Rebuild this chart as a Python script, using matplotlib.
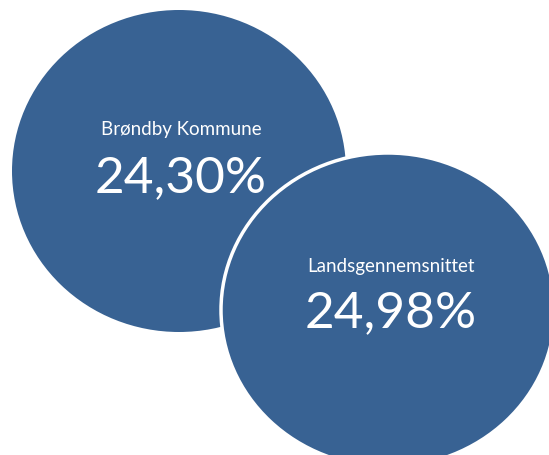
import matplotlib.pyplot as plt
from matplotlib.patches import Ellipse

# Data
labels = ['Brøndby Kommune', 'Landsgennemsnittet']
values = [24.30, 24.98]

# Bubble layout (pixel coords)
centers = [(179, 172), (388, 311)]
sizes = [(334, 322), (334, 314)]
text_x = [181, 391]
label_y = [130, 267]
value_y = [178, 313]
edges = ['none', 'white']
color = '#386293'

fig = plt.figure(figsize=(5.49, 4.56), dpi=100)
ax = fig.add_axes([0, 0, 1, 1])
ax.set_xlim(0, 549)
ax.set_ylim(456, 0)
ax.set_aspect('equal')
ax.axis('off')

for i, (label, val) in enumerate(zip(labels, values)):
    ax.add_patch(Ellipse(centers[i], sizes[i][0], sizes[i][1], facecolor=color,
                         edgecolor=edges[i], linewidth=2.5, zorder=i + 1))
    txt = f'{val:.2f}'.replace('.', ',') + '%'
    ax.text(text_x[i], label_y[i], label, color='white', fontsize=13.5,
            family='Lato', ha='center', va='center', zorder=10)
    ax.text(text_x[i], value_y[i], txt, color='white', fontsize=37,
            family='Lato', ha='center', va='center', zorder=10)

fig.savefig('out.png', dpi=100)
